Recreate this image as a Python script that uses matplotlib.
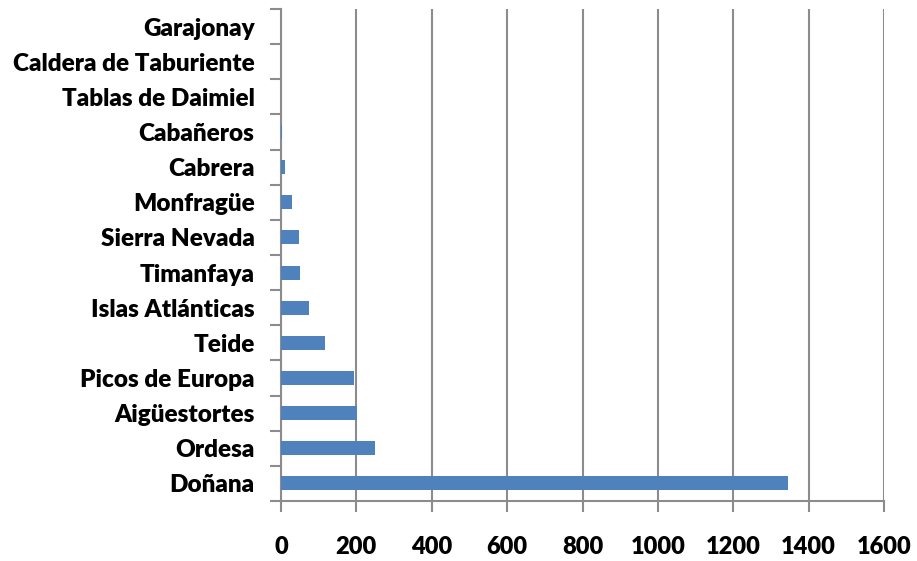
import numpy as np
import matplotlib.pyplot as plt

# parques nacionales, de abajo hacia arriba
parques = ["Doñana", "Ordesa", "Aigüestortes", "Picos de Europa", "Teide",
           "Islas Atlánticas", "Timanfaya", "Sierra Nevada", "Monfragüe",
           "Cabrera", "Cabañeros", "Tablas de Daimiel",
           "Caldera de Taburiente", "Garajonay"]
valores = [1344, 249, 201, 193, 117, 75, 50, 48, 29, 11, 3, 0, 0, 0]
xticks = [0, 200, 400, 600, 800, 1000, 1200, 1400, 1600]

plt.rcParams['font.family'] = ['Lato', 'DejaVu Sans']

fig = plt.figure(figsize=(9.17, 5.61), dpi=100)
ax = fig.add_axes([281/917, 1 - 501/561, (884-281)/917, (501-9)/561])

y = np.arange(len(parques))
ax.barh(y, valores, height=0.4, color="#4F81BD", zorder=3)

ax.set_xlim(0, 1600)
ax.set_ylim(-0.5, len(parques) - 0.5)
ax.set_xticks(xticks)
ax.set_xticklabels([str(v) for v in xticks], fontsize=17, fontweight="heavy")
ax.set_yticks(y)
ax.set_yticklabels(parques, fontsize=17.5, fontweight="heavy")
ax.set_yticks(np.arange(-0.5, len(parques)), minor=True)

ax.grid(axis="x", color="#8c8c8c", linewidth=1.5, zorder=0)
for s in ["top", "right"]:
    ax.spines[s].set_visible(False)
for s in ["left", "bottom"]:
    ax.spines[s].set_color("#8c8c8c")
    ax.spines[s].set_linewidth(1.5)

ax.tick_params(axis="y", which="major", length=0, pad=19)
ax.tick_params(axis="y", which="minor", length=8, width=1.5, color="#8c8c8c")
ax.tick_params(axis="x", length=8, width=1.5, color="#8c8c8c", pad=17)

fig.savefig("out.png", dpi=100)
